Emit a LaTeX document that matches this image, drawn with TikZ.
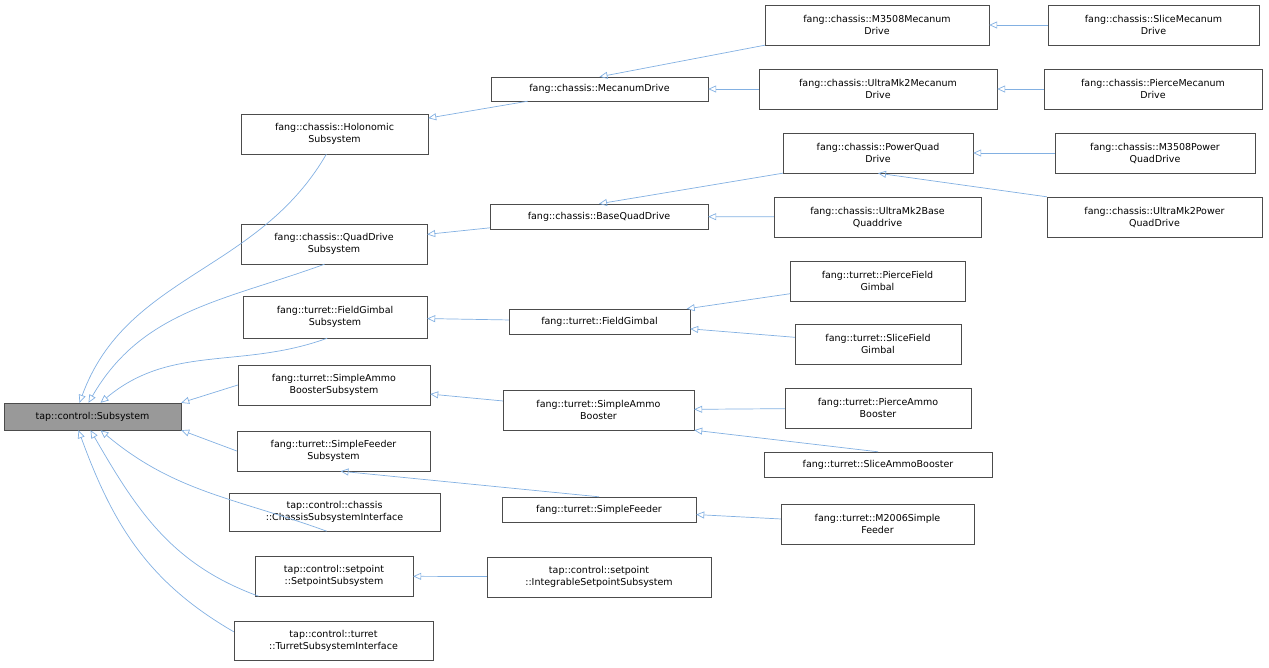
\documentclass[tikz,border=0pt]{standalone}
\usepackage{fontspec}
\setmainfont{DejaVu Sans}
\usetikzlibrary{arrows.meta}
\newcommand\nd[7][]{\node[box,#1,minimum width={(#5-#3)*1pt},minimum height={(#6-#4)*1pt}] (#2) at ({(#3+#5)/2},{(#4+#6)/2}) {#7};}
\begin{document}
\begin{tikzpicture}[x=1pt,y=-1pt,
 box/.style={draw=black!70,fill=white,inner sep=0pt,align=center,font=\fontsize{9.5}{12}\selectfont},
 edge/.style={draw=cyan!60!blue!50,line width=0.7pt,-{Triangle[open,length=8pt,width=7pt]}}]
\useasboundingbox (0,0) rectangle (1269,667);
\nd[fill=black!40]{sub}{4}{403}{181}{430}{tap::control::Subsystem}
\nd{hol}{241}{114}{428}{154}{fang::chassis::Holonomic\\Subsystem}
\nd{qds}{241}{224}{427}{264}{fang::chassis::QuadDrive\\Subsystem}
\nd{fgs}{243}{296}{427}{338}{fang::turret::FieldGimbal\\Subsystem}
\nd{sabs}{238}{365}{430}{405}{fang::turret::SimpleAmmo\\BoosterSubsystem}
\nd{sfs}{237}{431}{430}{471}{fang::turret::SimpleFeeder\\Subsystem}
\nd{csi}{229}{493}{440}{531}{tap::control::chassis\\::ChassisSubsystemInterface}
\nd{sps}{255}{556}{413}{596}{tap::control::setpoint\\::SetpointSubsystem}
\nd{tsi}{234}{621}{433}{660}{tap::control::turret\\::TurretSubsystemInterface}
\nd{mec}{491}{77}{708}{101}{fang::chassis::MecanumDrive}
\nd{bqd}{490}{204}{708}{229}{fang::chassis::BaseQuadDrive}
\nd{fg}{509}{309}{690}{334}{fang::turret::FieldGimbal}
\nd{sab}{503}{390}{694}{430}{fang::turret::SimpleAmmo\\Booster}
\nd{sf}{502}{497}{696}{522}{fang::turret::SimpleFeeder}
\nd{isps}{487}{557}{711}{597}{tap::control::setpoint\\::IntegrableSetpointSubsystem}
\nd{m35m}{765}{5}{989}{45}{fang::chassis::M3508Mecanum\\Drive}
\nd{umm}{759}{69}{997}{109}{fang::chassis::UltraMk2Mecanum\\Drive}
\nd{pqd}{783}{133}{973}{173}{fang::chassis::PowerQuad\\Drive}
\nd{umb}{774}{197}{981}{237}{fang::chassis::UltraMk2Base\\Quaddrive}
\nd{pfg}{790}{261}{965}{301}{fang::turret::PierceField\\Gimbal}
\nd{sfg}{795}{324}{961}{364}{fang::turret::SliceField\\Gimbal}
\nd{pab}{785}{388}{971}{428}{fang::turret::PierceAmmo\\Booster}
\nd{slab}{764}{452}{992}{477}{fang::turret::SliceAmmoBooster}
\nd{m26}{781}{504}{974}{544}{fang::turret::M2006Simple\\Feeder}
\nd{slm}{1048}{5}{1259}{45}{fang::chassis::SliceMecanum\\Drive}
\nd{pm}{1044}{69}{1262}{109}{fang::chassis::PierceMecanum\\Drive}
\nd{m35p}{1055}{133}{1255}{173}{fang::chassis::M3508Power\\QuadDrive}
\nd{ump}{1047}{197}{1262}{237}{fang::chassis::UltraMk2Power\\QuadDrive}
% left fan
\draw[edge] (hol.-112) to[out=240,in=70] ([xshift=-13pt]sub.north);
\draw[edge] (qds.-115) to[out=200,in=60] ([xshift=-4pt]sub.north);
\draw[edge] (fgs.-110) to[out=200,in=40] ([xshift=8pt]sub.north);
\draw[edge] (sabs.west) -- (sub.north east);
\draw[edge] (sfs.west) -- (sub.south east);
\draw[edge] (csi.-112) to[out=160,in=-40] ([xshift=8pt]sub.south);
\draw[edge] (sps.-165) to[out=160,in=-60] ([xshift=-2pt]sub.south);
\draw[edge] (tsi.175) to[out=150,in=-70] ([xshift=-14pt]sub.south);
% others
\draw[edge] (mec) -- (hol);
\draw[edge] (bqd) -- (qds);
\draw[edge] (fg) -- (fgs);
\draw[edge] (sab) -- (sabs);
\draw[edge] (sf.north) -- ([xshift=7pt]sfs.south);
\draw[edge] (isps) -- (sps);
\draw[edge] (m35m.south west) -- (mec.north);
\draw[edge] (umm) -- (mec);
\draw[edge] (pqd.south west) -- (bqd.north);
\draw[edge] (umb) -- (bqd);
\draw[edge] (pfg) -- (fg);
\draw[edge] (sfg) -- (fg);
\draw[edge] (pab) -- (sab);
\draw[edge] (slab.north) -- ([xshift=0pt]sab.south east);
\draw[edge] (m26) -- (sf);
\draw[edge] (slm) -- (m35m);
\draw[edge] (pm) -- (umm);
\draw[edge] (m35p) -- (pqd);
\draw[edge] (ump.north west) -- (pqd.south);
\end{tikzpicture}
\end{document}
